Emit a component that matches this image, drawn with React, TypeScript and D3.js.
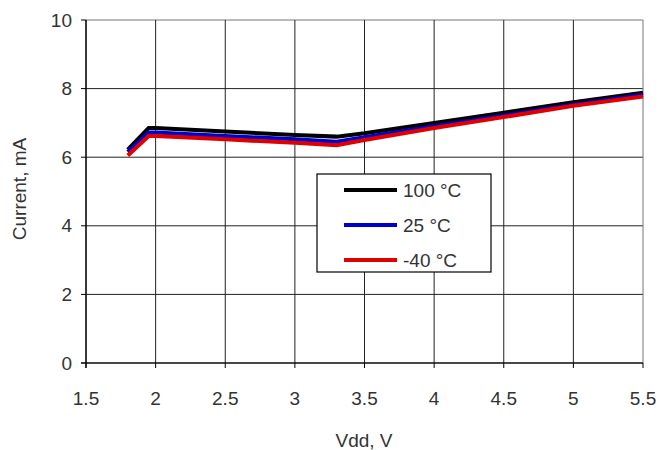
import React from "react";
import * as d3 from "d3";

const vdd = [1.8, 1.95, 2.0, 2.5, 3.0, 3.3, 3.5, 4.0, 4.5, 5.0, 5.5];
const cur100 = [6.22, 6.85, 6.85, 6.75, 6.65, 6.6, 6.7, 7.0, 7.3, 7.6, 7.88];
const cur25 = [6.15, 6.72, 6.72, 6.62, 6.52, 6.45, 6.58, 6.9, 7.22, 7.53, 7.82];
const curM40 = [6.05, 6.62, 6.62, 6.52, 6.42, 6.35, 6.5, 6.85, 7.17, 7.5, 7.77];
const seriesNames = ["100 °C", "25 °C", "-40 °C"];
const seriesColors = ["#000000", "#0000cc", "#e00000"];
const xTicks = [1.5, 2, 2.5, 3, 3.5, 4, 4.5, 5, 5.5];
const yTicks = [0, 2, 4, 6, 8, 10];

export default function App() {
  const W = 662, H = 450;
  const L = 86, R = 643, T = 20, B = 363;
  const x = d3.scaleLinear().domain([1.5, 5.5]).range([L, R]);
  const y = d3.scaleLinear().domain([0, 10]).range([B, T]);
  const line = d3.line<[number, number]>().x(d => x(d[0])).y(d => y(d[1]));
  const series = [cur100, cur25, curM40];
  const font = "'Liberation Sans', Arial, sans-serif";
  const fs = 19;
  const tc = "#333";
  return (
    <svg width={W} height={H} style={{ position: "absolute", left: 0, top: 0, background: "#fff" }} fontFamily={font}>
      <rect x={0} y={0} width={W} height={H} fill="#fff" />
      {yTicks.map(t => (
        <line key={"gy" + t} x1={L} x2={R} y1={y(t)} y2={y(t)} stroke={t === 10 ? "#777" : "#222"} strokeWidth={1} />
      ))}
      {xTicks.map(t => (
        <line key={"gx" + t} x1={x(t)} x2={x(t)} y1={T} y2={B} stroke={t === 5.5 ? "#777" : "#222"} strokeWidth={1} />
      ))}
      <line x1={L} x2={L} y1={T} y2={B + 5} stroke="#000" strokeWidth={1.2} />
      <line x1={L - 5} x2={R} y1={B} y2={B} stroke="#000" strokeWidth={1.2} />
      {yTicks.map(t => (
        <line key={"ty" + t} x1={L - 5} x2={L} y1={y(t)} y2={y(t)} stroke="#000" />
      ))}
      {xTicks.map(t => (
        <line key={"tx" + t} x1={x(t)} x2={x(t)} y1={B} y2={B + 5} stroke="#000" />
      ))}
      {yTicks.map(t => (
        <text key={"ly" + t} x={L - 14} y={y(t)} dy="0.35em" textAnchor="end" fontSize={fs} fill={tc}>{t}</text>
      ))}
      {xTicks.map(t => (
        <text key={"lx" + t} x={x(t)} y={B + 42} textAnchor="middle" fontSize={fs} fill={tc}>{String(t)}</text>
      ))}
      <text x={364} y={447} textAnchor="middle" fontSize={fs} fill={tc}>Vdd, V</text>
      <text transform={`translate(26, 189) rotate(-90)`} textAnchor="middle" fontSize={fs} fill={tc}>Current, mA</text>
      {series.map((s, i) => (
        <path key={"s" + i} d={line(vdd.map((v, j) => [v, s[j]] as [number, number])) || ""} fill="none" stroke={seriesColors[i]} strokeWidth={4} strokeLinejoin="miter" />
      ))}
      <rect x={317} y={174} width={174} height={98} fill="#fff" stroke="#000" strokeWidth={1.2} />
      {seriesNames.map((n, i) => (
        <g key={"lg" + i}>
          <line x1={344} x2={397} y1={190 + i * 35} y2={190 + i * 35} stroke={seriesColors[i]} strokeWidth={4} />
          <text x={403} y={190 + i * 35} dy="0.35em" fontSize={fs} fill={tc}>{n}</text>
        </g>
      ))}
    </svg>
  );
}
